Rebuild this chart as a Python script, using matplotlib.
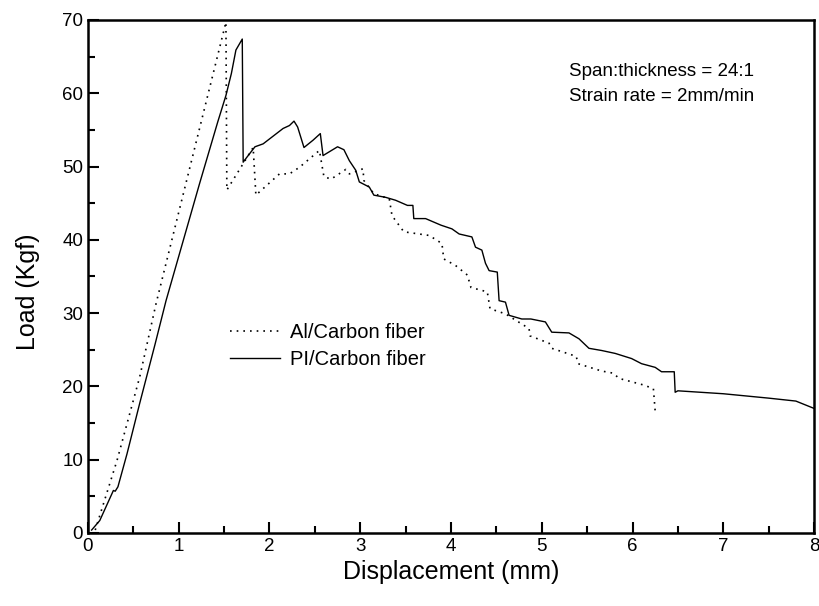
import numpy as np
import matplotlib.pyplot as plt
from matplotlib.ticker import MultipleLocator

plt.rcParams['font.family'] = ['Liberation Sans', 'DejaVu Sans']

# Al/Carbon fiber (dotted)
al_x = [0.08, 0.32, 0.57, 0.75, 1.52, 1.53, 1.82, 1.85, 2.11, 2.22, 2.33, 2.55,
        2.60, 2.68, 2.84, 2.88, 3.03, 3.04, 3.15, 3.32, 3.35, 3.48, 3.76, 3.90,
        3.92, 4.05, 4.18, 4.22, 4.40, 4.43, 4.60, 4.86, 4.87, 5.08, 5.11, 5.38,
        5.40, 5.66, 5.79, 5.85, 6.12, 6.23, 6.25]
al_y = [0.4, 9.9, 21.3, 31.3, 69.7, 46.8, 52.6, 46.1, 49.0, 49.0, 49.9, 52.2,
        48.6, 48.3, 49.6, 49.0, 49.7, 48.1, 46.3, 45.6, 43.3, 41.1, 40.6, 39.5,
        37.4, 36.5, 35.2, 33.5, 32.9, 30.6, 29.9, 27.9, 26.9, 25.9, 25.2, 24.1,
        23.1, 22.1, 21.8, 21.1, 20.2, 19.7, 16.6]

# PI/Carbon fiber (solid)
pi_x = [0.04, 0.13, 0.28, 0.30, 0.33, 0.43, 0.57, 0.74, 0.86, 1.23, 1.43, 1.52,
        1.58, 1.63, 1.70, 1.71, 1.74, 1.84, 1.93, 2.15, 2.22, 2.27, 2.31, 2.35,
        2.38, 2.48, 2.56, 2.59, 2.75, 2.82, 2.88, 2.95, 2.99, 3.10, 3.15, 3.28,
        3.39, 3.52, 3.58, 3.59, 3.72, 3.89, 4.01, 4.09, 4.23, 4.27, 4.34, 4.38,
        4.42, 4.51, 4.53, 4.60, 4.64, 4.78, 4.88, 5.04, 5.11, 5.30, 5.41, 5.52,
        5.66, 5.81, 5.99, 6.10, 6.25, 6.32, 6.46, 6.47, 6.50, 7.00, 7.50, 7.80, 8.00]
pi_y = [0.4, 1.7, 5.8, 5.7, 6.3, 10.8, 17.7, 25.8, 31.7, 47.7, 56.1, 59.7,
        62.7, 65.9, 67.4, 50.6, 51.1, 52.7, 53.1, 55.2, 55.6, 56.2, 55.4, 53.8,
        52.6, 53.6, 54.5, 51.5, 52.7, 52.3, 50.8, 49.5, 47.9, 47.2, 46.1, 45.8,
        45.4, 44.7, 44.7, 42.9, 42.9, 42.0, 41.5, 40.8, 40.4, 39.0, 38.6, 36.8,
        35.8, 35.6, 31.7, 31.5, 29.7, 29.2, 29.2, 28.8, 27.4, 27.3, 26.5, 25.2,
        24.9, 24.5, 23.8, 23.1, 22.6, 22.0, 22.0, 19.2, 19.4, 19.0, 18.4, 18.0, 17.0]

fig = plt.figure(figsize=(8.2, 6.06), dpi=100)
ax = fig.add_axes([0.1073, 0.1205, 0.8854, 0.8465])

ax.plot(al_x, al_y, color='black', lw=1.2, linestyle=(0, (1, 3)), label='Al/Carbon fiber')
ax.plot(pi_x, pi_y, color='black', lw=1.0, label='PI/Carbon fiber')

ax.set_xlim(0, 8)
ax.set_ylim(0, 70)
ax.xaxis.set_major_locator(MultipleLocator(1))
ax.xaxis.set_minor_locator(MultipleLocator(0.5))
ax.yaxis.set_major_locator(MultipleLocator(10))
ax.yaxis.set_minor_locator(MultipleLocator(5))
ax.tick_params(which='both', direction='in', top=False, right=False, labelsize=13.5, width=1.5)
ax.tick_params(which='major', length=8)
ax.tick_params(which='minor', length=5)
for s in ax.spines.values():
    s.set_linewidth(1.8)

ax.set_xlabel('Displacement (mm)', fontsize=18)
ax.set_ylabel('Load (Kgf)', fontsize=18)
ax.yaxis.set_label_coords(-0.066, 0.47)

ax.legend(loc='upper left', bbox_to_anchor=(0.17, 0.445), frameon=False, fontsize=14.5,
          handlelength=2.5, handletextpad=0.5, labelspacing=0.4)

ax.text(5.30, 63.0, 'Span:thickness = 24:1', fontsize=13.5, va='center')
ax.text(5.30, 59.5, 'Strain rate = 2mm/min', fontsize=13.5, va='center')

plt.savefig('out.png')
